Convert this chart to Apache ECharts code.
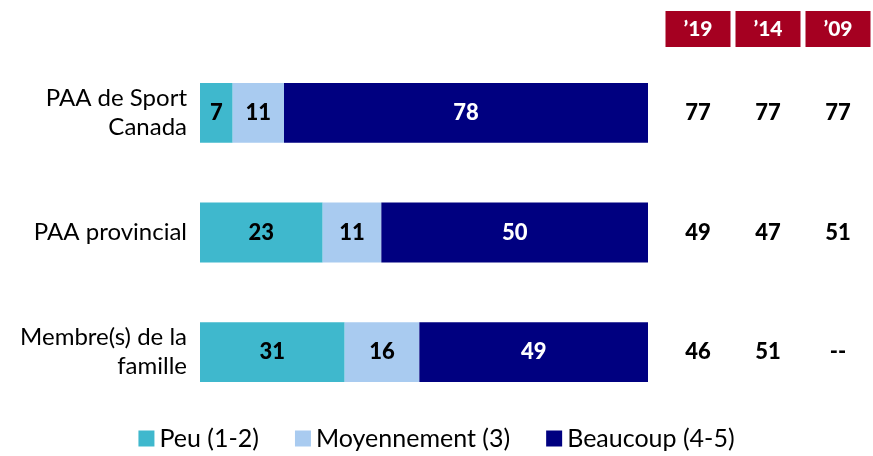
<!DOCTYPE html>
<html><head><meta charset="utf-8">
<script src="https://cdn.jsdelivr.net/npm/echarts@6/dist/echarts.min.js"></script>
<style>html,body{margin:0;padding:0;background:#fff}#c{width:873px;height:456px}</style>
</head><body><div id="c"></div>
<script>
const categories = ['PAA de Sport\nCanada', 'PAA provincial', 'Membre(s) de la\nfamille'];
const seriesNames = ['Peu (1-2)', 'Moyennement (3)', 'Beaucoup (4-5)'];
const peu = [7, 23, 31];
const moyen = [11, 11, 16];
const beaucoup = [78, 50, 49];
const years = ['\u201919', '\u201914', '\u201909'];
const y19 = ['77', '49', '46'];
const y14 = ['77', '47', '51'];
const y09 = ['77', '51', '--'];

const colors = ['#3FB8CD', '#A9CBF0', '#000080'];
const labelColors = ['#000', '#000', '#fff'];
const FONT = 'Lato';
const raw = [peu, moyen, beaucoup];
const totals = categories.map((_, i) => peu[i] + moyen[i] + beaucoup[i]);

const barSeries = raw.map((arr, s) => ({
  name: seriesNames[s], type: 'bar', stack: 'a', xAxisIndex: 0, yAxisIndex: 0,
  barCategoryGap: '50%',
  itemStyle: { color: colors[s] },
  data: arr.map((v, i) => ({ value: v / totals[i] * 100, raw: v })),
  label: { show: true, position: 'inside', color: labelColors[s], fontFamily: FONT,
    fontWeight: 900, fontSize: 22, formatter: p => p.data.raw },
  emphasis: { disabled: true }
}));

const cols = [y19, y14, y09];
const tableData = [];
cols.forEach((col, c) => col.forEach((v, r) => tableData.push({ value: [c, r], txt: v })));

const option = {
  animation: false,
  legend: {
    bottom: 0, left: 'center', icon: 'rect', itemWidth: 16, itemHeight: 16, itemGap: 36,
    data: seriesNames,
    textStyle: { fontFamily: FONT, fontSize: 25, color: '#000' }
  },
  grid: [
    { left: 200, width: 448, top: 53, height: 359 },
    { left: 663, width: 213, top: 53, height: 359 }
  ],
  xAxis: [
    { type: 'value', min: 0, max: 100, gridIndex: 0, show: false },
    { type: 'category', gridIndex: 1, position: 'top', data: years,
      axisLine: { show: false }, axisTick: { show: false }, splitLine: { show: false },
      axisLabel: { margin: 6, color: '#fff', fontFamily: FONT, fontWeight: 900, fontSize: 21,
        backgroundColor: '#A50021', width: 65, lineHeight: 22, padding: [7, 0, 7, 0], align: 'center' } }
  ],
  yAxis: [
    { type: 'category', gridIndex: 0, inverse: true, data: categories,
      axisLine: { show: false }, axisTick: { show: false },
      axisLabel: { margin: 13, color: '#000', fontFamily: FONT, fontSize: 24, lineHeight: 29, align: 'right' } },
    { type: 'category', gridIndex: 1, inverse: true, data: categories, show: false }
  ],
  series: barSeries.concat([{
    type: 'scatter', xAxisIndex: 1, yAxisIndex: 1, symbolSize: 1, itemStyle: { opacity: 0 }, data: tableData,
    label: { show: true, position: 'inside', color: '#000', fontFamily: FONT, fontWeight: 900,
      fontSize: 22, formatter: p => p.data.txt, opacity: 1 },
    emphasis: { disabled: true }, silent: true
  }])
};
echarts.init(document.getElementById('c')).setOption(option);
</script></body></html>
